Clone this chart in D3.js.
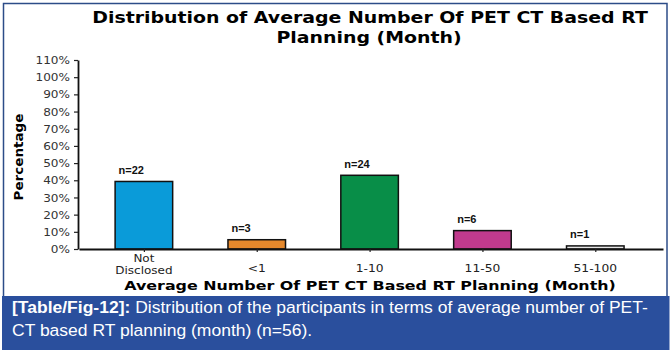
<!DOCTYPE html>
<html>
<head>
<meta charset="utf-8">
<script src="https://cdn.jsdelivr.net/npm/d3@7"></script>
<style>
  html, body { margin: 0; padding: 0; background: #ffffff; }
  svg { display: block; }
</style>
</head>
<body>
<div id="chart"></div>
<script>
// ---- data ----
const categories = ["Not Disclosed", "<1", "1-10", "11-50", "51-100"];
const counts = [22, 3, 24, 6, 1];
const percentages = [39.3, 5.4, 42.9, 10.7, 1.8];
const barColors = ["#0a9bd9", "#e5882c", "#088e48", "#c13a8d", "#e6e6e6"];
const yTicks = [0, 10, 20, 30, 40, 50, 60, 70, 80, 90, 100, 110];
const titleLines = ["Distribution of Average Number Of PET CT Based RT", "Planning (Month)"];
const xTitle = "Average Number Of PET CT Based RT Planning (Month)";
const yTitle = "Percentage";
const captionBold = "[Table/Fig-12]:";
const captionLine1 = " Distribution of the participants in terms of average number of PET-";
const captionLine2 = "CT based RT planning (month) (n=56).";

const W = 671, H = 355;
const svg = d3.select("#chart").append("svg").attr("width", W).attr("height", H);

// frame + caption band
svg.append("rect").attr("x", 3.5).attr("y", 3.5).attr("width", 663.5).attr("height", 300)
  .attr("fill", "#ffffff").attr("stroke", "#2c4c88").attr("stroke-width", 1.5);
svg.append("rect").attr("x", 2).attr("y", 296).attr("width", 667.5).attr("height", 54)
  .attr("fill", "#2a4f9d");

function fit(sel, x, y, targetW) {
  const w = sel.node().getComputedTextLength();
  sel.attr("x", 0).attr("y", 0)
     .attr("transform", `translate(${x},${y}) scale(${targetW / w},1)`);
  return targetW / w;
}
function stretch(sel, x, y, sx) {
  sel.attr("x", 0).attr("y", 0).attr("transform", `translate(${x},${y}) scale(${sx},1)`);
}

// scales
const x = d3.scaleLinear().domain([-0.575, 4.6]).range([79, 663]);
const y = d3.scaleLinear().domain([0, 110]).range([249, 60]);
const bw = 0.51;

// title
const t1 = svg.append("text").attr("text-anchor", "middle")
  .attr("font-family", "DejaVu Sans").attr("font-weight", "bold").attr("font-size", 15)
  .attr("fill", "#000").text(titleLines[0]);
const tsx = fit(t1, 370, 23, 556);
const t2 = svg.append("text").attr("text-anchor", "middle")
  .attr("font-family", "DejaVu Sans").attr("font-weight", "bold").attr("font-size", 15)
  .attr("fill", "#000").text(titleLines[1]);
stretch(t2, 369, 43, tsx);

// bars
const g = svg.append("g");
g.selectAll("rect.bar").data(categories).enter().append("rect")
  .attr("class", "bar")
  .attr("x", (d, i) => x(i - bw / 2))
  .attr("width", (d, i) => x(i + bw / 2) - x(i - bw / 2))
  .attr("y", (d, i) => y(percentages[i]))
  .attr("height", (d, i) => y(0) - y(percentages[i]))
  .attr("fill", (d, i) => barColors[i])
  .attr("stroke", "#111").attr("stroke-width", 1.5);

// n labels
g.selectAll("text.n").data(categories).enter().append("text")
  .attr("class", "n")
  .attr("x", (d, i) => x(i - bw / 2) + 3.5)
  .attr("y", (d, i) => y(percentages[i]) - 7.5)
  .attr("font-family", "Liberation Sans Narrow, Liberation Sans, sans-serif")
  .attr("font-weight", "bold").attr("font-size", 11).attr("fill", "#111")
  .text((d, i) => "n=" + counts[i]);

// y axis
const yAxis = svg.append("g").attr("transform", "translate(78,0)")
  .call(d3.axisLeft(y).tickValues(yTicks).tickFormat(d => d + "%").tickSize(4).tickSizeOuter(0));
yAxis.select(".domain").attr("stroke", "#111").attr("stroke-width", 1.8);
yAxis.selectAll(".tick line").attr("stroke", "#222").attr("stroke-width", 1.2);
yAxis.selectAll(".tick text").each(function() {
  const s = d3.select(this);
  s.attr("font-family", "DejaVu Sans").attr("font-size", 10.5).attr("fill", "#333")
   .attr("dy", "0.34em");
  stretch(s, -8, 0, 1.15);
});

// x axis
const xAxis = svg.append("g").attr("transform", "translate(0,249)")
  .call(d3.axisBottom(x).tickValues(d3.range(categories.length)).tickFormat("").tickSize(3).tickSizeOuter(0));
xAxis.select(".domain").attr("stroke", "#111").attr("stroke-width", 1.8);
xAxis.selectAll(".tick line").attr("stroke", "#222").attr("stroke-width", 1.2);

categories.forEach((c, i) => {
  const parts = c.split(" ");
  if (parts.length > 1) {
    parts.forEach((p, k) => {
      const t = svg.append("text").attr("text-anchor", "middle")
        .attr("font-family", "DejaVu Sans").attr("font-size", 10).attr("fill", "#222").text(p);
      stretch(t, x(i), 262 + k * 12, 1.2);
    });
  } else {
    const t = svg.append("text").attr("text-anchor", "middle")
      .attr("font-family", "DejaVu Sans").attr("font-size", 10.5).attr("fill", "#222").text(c);
    stretch(t, x(i), 271.5, 1.17);
  }
});

// axis titles
const xt = svg.append("text").attr("text-anchor", "middle")
  .attr("font-family", "DejaVu Sans").attr("font-weight", "bold").attr("font-size", 12.5)
  .attr("fill", "#000").text(xTitle);
fit(xt, 370, 290, 492);

const yt = svg.append("text").attr("text-anchor", "middle")
  .attr("font-family", "DejaVu Sans").attr("font-weight", "bold").attr("font-size", 13)
  .attr("fill", "#000").text(yTitle);
const ytw = yt.node().getComputedTextLength();
yt.attr("x", 0).attr("y", 0)
  .attr("transform", `translate(23,157) rotate(-90) scale(${87 / ytw},1)`);

// caption
const c1 = svg.append("text").attr("font-family", "Liberation Sans Narrow, Liberation Sans, sans-serif")
  .attr("font-size", 17).attr("fill", "#ffffff");
c1.append("tspan").attr("font-weight", "bold").text(captionBold);
c1.append("tspan").text(captionLine1);
const csx = fit(c1, 12, 313, 636);
const c2 = svg.append("text").attr("font-family", "Liberation Sans Narrow, Liberation Sans, sans-serif")
  .attr("font-size", 17).attr("fill", "#ffffff").text(captionLine2);
stretch(c2, 12, 335.5, csx);
</script>
</body>
</html>
